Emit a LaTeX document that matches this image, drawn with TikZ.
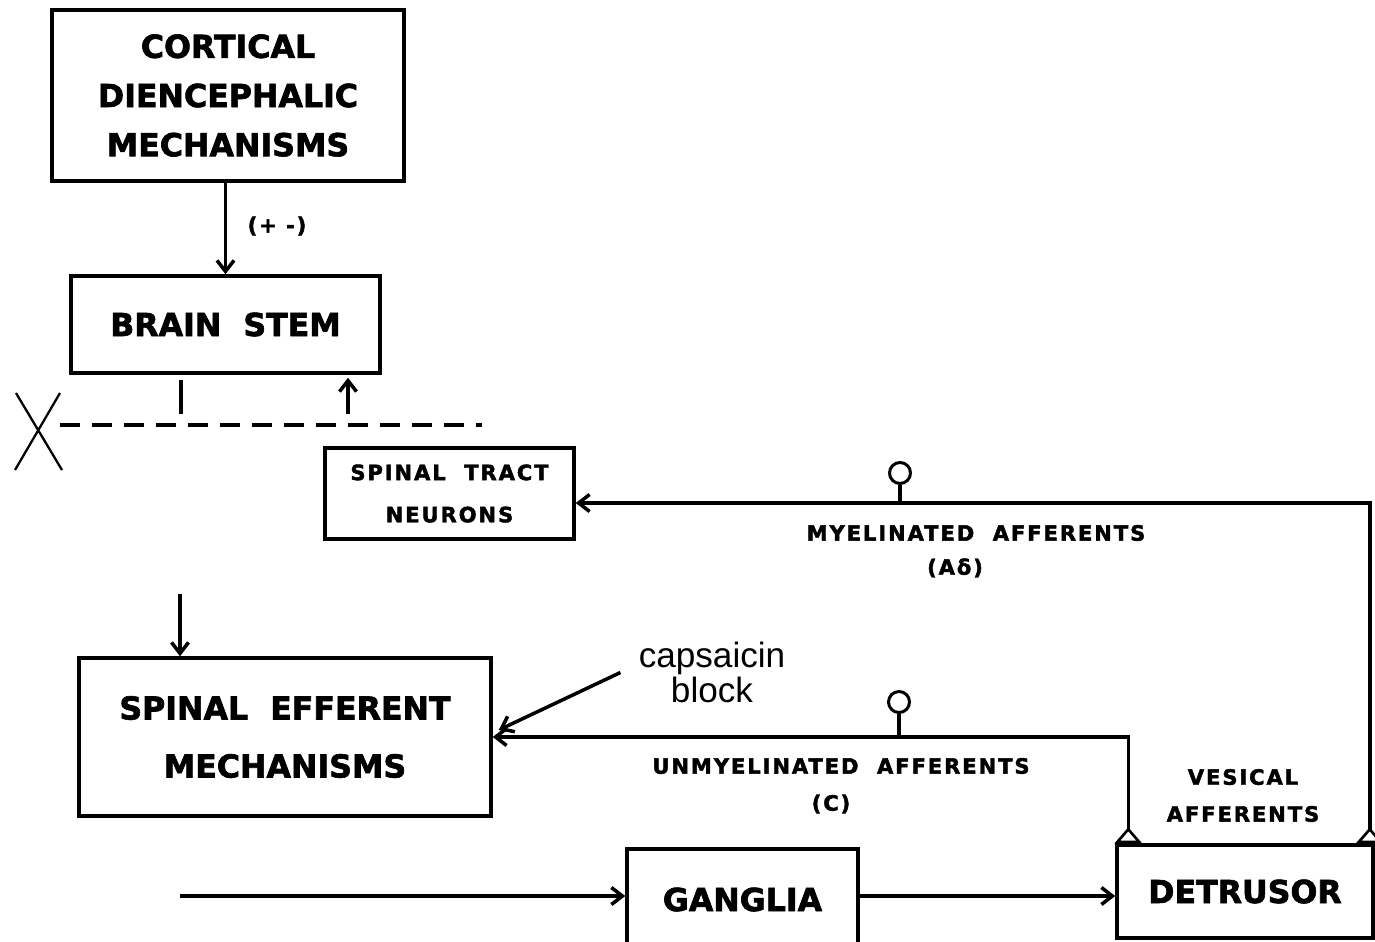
\documentclass[tikz,border=0pt]{standalone}
\usepackage{fontspec}
\setmainfont{DejaVu Sans}[BoldFeatures={FakeBold=2}]
\newfontfamily\spacedfont{DejaVu Sans}[LetterSpace=9, BoldFeatures={FakeBold=2}]
\newfontfamily\plainfont{Liberation Sans}
\usepackage{tikz}
\usetikzlibrary{arrows.meta}

\begin{document}
\begin{tikzpicture}[
    x=0.02cm, y=-0.02cm,
    every node/.style={align=center, inner sep=0pt},
    bigbox/.style={draw, line width=2pt, font=\bfseries\fontsize{18}{28}\selectfont},
    smallbox/.style={draw, line width=2pt, font=\spacedfont\bfseries\fontsize{12}{24}\selectfont},
    tag/.style={font=\spacedfont\bfseries\fontsize{12}{20}\selectfont},
    knob/.style={draw, circle, line width=1.7pt, minimum size=0.42cm},
    line/.style={line width=2pt},
    arrow/.style={-{Straight Barb[length=2.2mm,width=3.4mm]}, line width=2pt},
    vesical/.style={{Triangle[open,reversed,length=3.2mm,width=5.4mm,line width=1.5pt]}-{Straight Barb[length=2.2mm,width=3.4mm]}, line width=2pt}
]
\useasboundingbox (0,0) rectangle (1375,941);
% boxes
\node[bigbox, minimum width=7.04cm, minimum height=3.42cm] (cortical) at (228,95.5) {CORTICAL\\DIENCEPHALIC\\MECHANISMS};
\node[bigbox, minimum width=6.18cm, minimum height=1.94cm] (brainstem) at (225.5,324.5) {BRAIN~~STEM};
\node[smallbox, minimum width=4.98cm, minimum height=1.82cm] (tract) at (449.5,493.5) {SPINAL~~TRACT\\NEURONS};
\node[bigbox, minimum width=8.24cm, minimum height=3.16cm, font=\bfseries\fontsize{18}{33}\selectfont] (efferent) at (285,737) {SPINAL~~EFFERENT\\MECHANISMS};
\node[bigbox, minimum width=4.62cm, minimum height=2.02cm] (ganglia) at (742.5,899.5) {GANGLIA};
\node[bigbox, minimum width=5.12cm, minimum height=1.86cm] (detrusor) at (1245,891.5) {DETRUSOR};
% labels
\node[tag] (plusminus) at (277,226) {(+ -)};
\node[tag] (myelinated) at (976,533) {MYELINATED~~AFFERENTS};
\node[tag] (adelta) at (955,568) {(Aδ)};
\node[tag] (unmyelinated) at (841,766) {UNMYELINATED~~AFFERENTS};
\node[tag] (cfibre) at (831,804) {(C)};
\node[tag, font=\spacedfont\bfseries\fontsize{12}{21}\selectfont] (vesicallabel) at (1243,795.5) {VESICAL\\AFFERENTS};
\node[font=\plainfont\fontsize{20}{20}\selectfont] (capsaicin) at (712,672.5) {capsaicin\\block};
\node[knob] (myelknob) at (900,473) {};
\node[knob] (unmyelknob) at (899,702) {};
% free ends
\coordinate (myeljoin) at (900,503);
\coordinate (unmyeljoin) at (899,737);
\coordinate (stemdown) at (181,414);
\coordinate (tractup) at (348,414);
\coordinate (efferentin) at (180,594);
\coordinate (gangliain) at (180,896);
\coordinate (dashstart) at (60,425);
\coordinate (dashend) at (482,425);
% connectors
\draw[arrow] (brainstem.north |- cortical.south) -- (brainstem.north);
\draw[line] ([yshift=-0.1cm]stemdown |- brainstem.south) -- (stemdown);
\draw[arrow] (tractup) -- ([yshift=-0.06cm]tractup |- brainstem.south);
\draw[line, dash pattern=on 0.4cm off 0.24cm] (dashstart) -- (dashend);
\draw[line width=1.3pt] (16,393) -- (62,470) (60,393) -- (15,470);
\draw[arrow] (efferentin) -- (efferentin |- efferent.north);
\draw[vesical] ([xshift=-0.1cm]detrusor.north east) |- ([yshift=-0.19cm]tract.east);
\draw[vesical] ([xshift=0.26cm]detrusor.north west) |- (efferent.east);
\draw[line] (myelknob) -- (myeljoin);
\draw[line] (unmyelknob) -- (unmyeljoin);
\draw[arrow] ([xshift=-0.36cm]capsaicin.west) -- ([shift={(0.12cm,0.14cm)}]efferent.east);
\draw[arrow] (gangliain) -- (ganglia.west |- gangliain);
\draw[arrow] (ganglia.east |- gangliain) -- (detrusor.west |- gangliain);
\end{tikzpicture}
\end{document}
